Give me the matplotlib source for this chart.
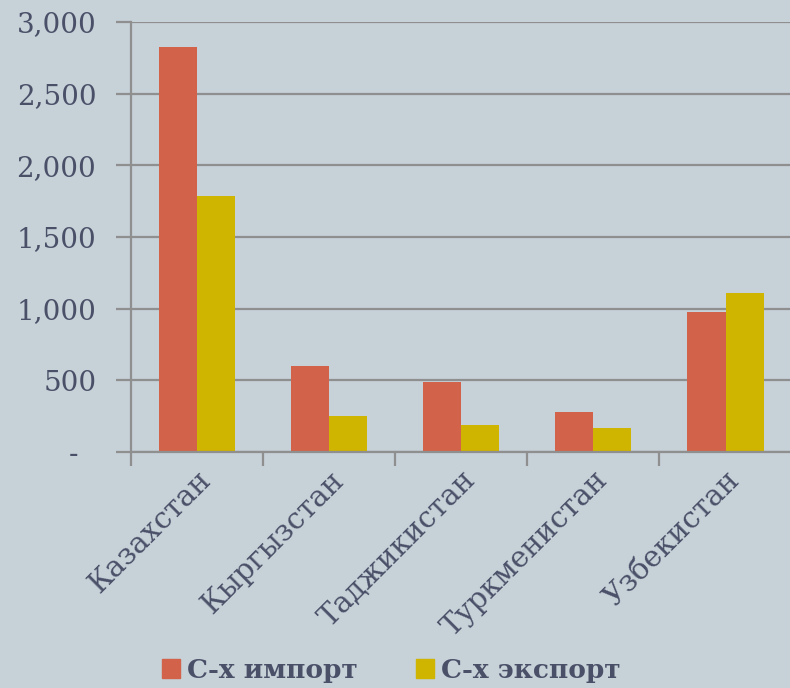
import matplotlib.pyplot as plt
import numpy as np
from matplotlib.ticker import FuncFormatter, FixedLocator
from matplotlib.patches import Patch

countries = ["Казахстан", "Кыргызстан", "Таджикистан", "Туркменистан", "Узбекистан"]
imports = [2826, 600, 488, 279, 979]
exports = [1786, 251, 188, 167, 1107]
series_names = ["С-х импорт", "С-х экспорт"]

bg = "#c6d1d8"
c_imp = "#d2634a"
c_exp = "#cfb400"
txt = "#4a5068"
grid_c = "#8f8f8f"

plt.rcParams["font.family"] = ["DejaVu Serif"]

fig = plt.figure(figsize=(7.9, 6.88), dpi=100, facecolor=bg)
ax = fig.add_axes([131 / 790, 1 - 452 / 688, 1 - 131 / 790 + 0.002, 430 / 688])
ax.set_facecolor(bg)

x = np.arange(len(countries))
w = 0.288
ax.bar(x - w / 2, imports, w, color=c_imp, zorder=3)
ax.bar(x + w / 2, exports, w, color=c_exp, zorder=3)

ax.set_xlim(-0.5, len(countries) - 0.5)
ax.set_ylim(0, 3000)
ax.set_yticks(np.arange(0, 3001, 500))
# accounting style: zero shown as a dash
ax.yaxis.set_major_formatter(FuncFormatter(lambda v, p: "-  " if v == 0 else f"{v:,.0f}"))
ax.grid(axis="y", color=grid_c, linewidth=1.6, zorder=1)

ax.set_xticks(x)
ax.set_xticklabels(countries, rotation=45, ha="right", rotation_mode="anchor")
ax.xaxis.set_minor_locator(FixedLocator(np.arange(-0.5, len(countries), 1.0)))
ax.tick_params(axis="x", which="major", length=0, pad=10, labelsize=21, labelcolor=txt)
ax.tick_params(axis="x", which="minor", length=10, width=1.6, color=grid_c)
ax.tick_params(axis="y", length=11, width=1.6, color=grid_c, pad=14, labelsize=20, labelcolor=txt)

for s in ["top", "right"]:
    ax.spines[s].set_visible(False)
for s in ["left", "bottom"]:
    ax.spines[s].set_color(grid_c)
    ax.spines[s].set_linewidth(1.6)
    ax.spines[s].set_zorder(4)

handles = [Patch(color=c_imp), Patch(color=c_exp)]
fig.legend(handles, series_names, loc="lower center", bbox_to_anchor=(0.495, -0.027), ncol=2,
           frameon=False, handlelength=0.7, handleheight=0.7, handletextpad=0.25,
           columnspacing=2.2, prop={"weight": "bold", "size": 19}, labelcolor=txt)

fig.savefig("out.png", dpi=100, facecolor=bg)
